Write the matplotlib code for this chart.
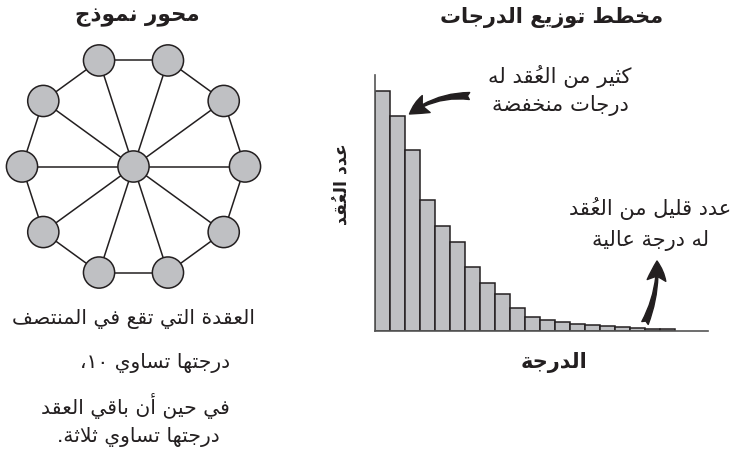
import matplotlib
matplotlib.use('Agg')
import matplotlib.pyplot as plt
from matplotlib.patches import Circle, FancyArrowPatch
import numpy as np

# ---------------- data ----------------
degree_counts = [240, 215, 181, 131, 105, 89, 64, 48, 37, 23,
                 14.5, 11, 9, 7, 5.7, 4.7, 3.7, 2.7, 2.3, 2]
n_outer = 10          # outer nodes of the hub model (hub degree = 10)

title_left = "محور نموذج"
title_right = "مخطط توزيع الدرجات"
note_many = ["كثير من العُقد له", "درجات منخفضة"]
note_few = ["عدد قليل من العُقد", "له درجة عالية"]
ylabel_txt = "عدد العُقد"
xlabel_txt = "الدرجة"
caption = ["العقدة التي تقع في المنتصف", "درجتها تساوي ١٠،",
           "في حين أن باقي العقد", "درجتها تساوي ثلاثة."]

# ---------------- simple Arabic shaping + bidi ----------------
DUAL = {'ئ': 0xFE89, 'ب': 0xFE8F, 'ت': 0xFE95, 'ث': 0xFE99, 'ج': 0xFE9D,
        'ح': 0xFEA1, 'خ': 0xFEA5, 'س': 0xFEB1, 'ش': 0xFEB5, 'ص': 0xFEB9,
        'ض': 0xFEBD, 'ط': 0xFEC1, 'ظ': 0xFEC5, 'ع': 0xFEC9, 'غ': 0xFECD,
        'ف': 0xFED1, 'ق': 0xFED5, 'ك': 0xFED9, 'ل': 0xFEDD, 'م': 0xFEE1,
        'ن': 0xFEE5, 'ه': 0xFEE9, 'ي': 0xFEF1}
RIGHT = {'آ': 0xFE81, 'أ': 0xFE83, 'ؤ': 0xFE85, 'إ': 0xFE87, 'ا': 0xFE8D,
         'ة': 0xFE93, 'د': 0xFEA9, 'ذ': 0xFEAB, 'ر': 0xFEAD, 'ز': 0xFEAF,
         'و': 0xFEED, 'ى': 0xFEEF}
LAMALEF = {'ا': 0xFEFB, 'أ': 0xFEF7, 'إ': 0xFEF9, 'آ': 0xFEF5}
MARKS = set(chr(c) for c in range(0x064B, 0x0653))
DIGITS = set('0123456789٠١٢٣٤٥٦٧٨٩')


def shape(text):
    cl = []
    i = 0
    while i < len(text):
        ch = text[i]
        if ch in MARKS and cl:
            cl[-1][2] += ch
            i += 1
            continue
        if ch == 'ل' and i + 1 < len(text) and text[i + 1] in LAMALEF:
            cl.append(['LA', text[i + 1], ''])
            i += 2
            continue
        if ch in DUAL:
            cl.append(['D', ch, ''])
        elif ch in RIGHT:
            cl.append(['R', ch, ''])
        else:
            cl.append(['N', ch, ''])
        i += 1
    out = []
    for k, (kind, base, marks) in enumerate(cl):
        prev_j = k > 0 and cl[k - 1][0] == 'D' and kind != 'N'
        next_j = kind == 'D' and k + 1 < len(cl) and cl[k + 1][0] != 'N'
        if kind == 'D':
            off = {(False, False): 0, (True, False): 1,
                   (False, True): 2, (True, True): 3}[(prev_j, next_j)]
            g = chr(DUAL[base] + off)
        elif kind == 'R':
            g = chr(RIGHT[base] + (1 if prev_j else 0))
        elif kind == 'LA':
            g = chr(LAMALEF[base] + (1 if prev_j else 0))
        else:
            g = base
        out.append(g + marks)
    out = out[::-1]
    res, run = [], []
    for c in out:
        if c in DIGITS:
            run.append(c)
        else:
            if run:
                res.extend(run[::-1])
                run = []
            res.append(c)
    if run:
        res.extend(run[::-1])
    # zero-advance marks go before their base glyph in LTR drawing order
    fixed = []
    for c in res:
        fixed.append(c[1:] + c[0] if len(c) > 1 else c)
    return ''.join(fixed)


# ---------------- figure ----------------
W, H = 732, 460
fig = plt.figure(figsize=(W / 100, H / 100), dpi=100)
plt.rcParams['font.family'] = ['DejaVu Sans']
INK = '#231f20'
GRAY = '#bfc0c3'

ov = fig.add_axes([0, 0, 1, 1])
ov.set_xlim(0, W)
ov.set_ylim(H, 0)
ov.axis('off')

# hub network
cx, cy, R = 133.5, 167.5, 111.5
ang = np.deg2rad(np.arange(n_outer) * 360 / n_outer)
px = cx + R * np.cos(ang)
py = cy - R * np.sin(ang)
for k in range(n_outer):
    ov.plot([cx, px[k]], [cy, py[k]], color=INK, lw=1.1, zorder=1)
    j = (k + 1) % n_outer
    ov.plot([px[k], px[j]], [py[k], py[j]], color=INK, lw=1.1, zorder=1)
for x, y in list(zip(px, py)) + [(cx, cy)]:
    ov.add_patch(Circle((x, y), 15.6, facecolor=GRAY, edgecolor=INK,
                        lw=1.1, zorder=2))

# texts
ov.text(137, 17, shape(title_left), ha='center', va='center',
        fontsize=15.5, fontweight='bold', color=INK)
ov.text(552, 17, shape(title_right), ha='center', va='center',
        fontsize=15, fontweight='bold', color=INK)
ov.text(560, 76, shape(note_many[0]), ha='center', va='center',
        fontsize=15.2, color=INK)
ov.text(560, 106, shape(note_many[1]), ha='center', va='center',
        fontsize=15.2, color=INK)
ov.text(650, 209, shape(note_few[0]), ha='center', va='center',
        fontsize=15, color=INK)
ov.text(651, 241, shape(note_few[1]), ha='center', va='center',
        fontsize=15, color=INK)
ov.text(341, 184, shape(ylabel_txt), ha='center', va='center',
        rotation=90, fontsize=12.5, fontweight='bold', color=INK)
ov.text(554, 363, shape(xlabel_txt), ha='center', va='center',
        fontsize=15, fontweight='bold', color=INK)
cap_pos = [(134, 319), (155, 363), (135, 406), (138, 437)]
for (x, y), line in zip(cap_pos, caption):
    ov.text(x, y, shape(line), ha='center', va='center', fontsize=14.6,
            color=INK)

# histogram
L, B, T, Rr = 375, 332, 76, 708
ax = fig.add_axes([L / W, (H - B) / H, (Rr - L) / W, (B - T) / H])
xs = np.arange(len(degree_counts))
ax.bar(xs, degree_counts, width=1.0, align='edge', facecolor=GRAY,
       edgecolor=INK, linewidth=1.1)
ax.set_xlim(0, (Rr - L) / 15)
ax.set_ylim(0, B - T)
ax.set_xticks([])
ax.set_yticks([])
for s in ['top', 'right']:
    ax.spines[s].set_visible(False)
for s in ['left', 'bottom']:
    ax.spines[s].set_color('#555555')
    ax.spines[s].set_linewidth(1.2)
ax.patch.set_alpha(0)

# arrows (tips anchored to bars)
style = 'fancy,head_length=0.5,head_width=0.48,tail_width=0.18'
a1 = FancyArrowPatch((6.3, 235), (2.3, 217),
                     connectionstyle='arc3,rad=0.18', arrowstyle=style,
                     mutation_scale=28, color=INK, shrinkA=0, shrinkB=0,
                     clip_on=False, zorder=5)
ax.add_patch(a1)
a2 = FancyArrowPatch((18.0, 8), (18.8, 70),
                     connectionstyle='arc3,rad=0.12', arrowstyle=style,
                     mutation_scale=28, color=INK, shrinkA=0, shrinkB=0,
                     clip_on=False, zorder=5)
ax.add_patch(a2)

fig.savefig('out.png', dpi=100)
